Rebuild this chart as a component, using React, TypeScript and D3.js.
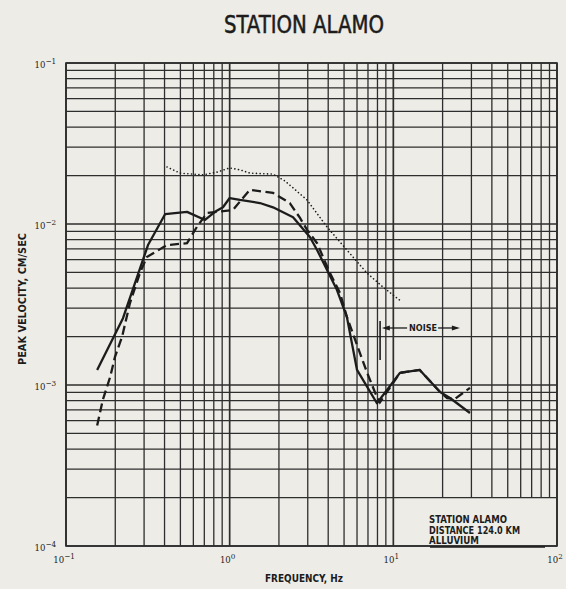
import React from "react";
import * as d3 from "d3";

// ---- data ----
const solidFreq = [0.155, 0.223, 0.317, 0.403, 0.549, 0.707, 0.813, 0.91, 1.0, 1.156, 1.53, 1.84, 2.44, 3.09, 3.42, 3.93, 4.52, 5.2, 6.0, 7.94, 10.97, 14.5, 19.3, 22.2, 29.4];
const solidVel = [1.24e-3, 2.6e-3, 7.4e-3, 1.15e-2, 1.19e-2, 1.06e-2, 1.19e-2, 1.27e-2, 1.45e-2, 1.41e-2, 1.35e-2, 1.27e-2, 1.1e-2, 8.3e-3, 6.9e-3, 5.2e-3, 3.9e-3, 2.65e-3, 1.24e-3, 7.7e-4, 1.19e-3, 1.24e-3, 9.05e-4, 8.3e-4, 6.7e-4];

const dashedFreq = [0.155, 0.168, 0.186, 0.199, 0.22, 0.246, 0.283, 0.312, 0.414, 0.549, 0.631, 0.727, 0.837, 1.047, 1.19, 1.33, 1.84, 2.33, 2.69, 2.97, 3.42, 4.1, 4.72, 5.2, 6.0, 6.9, 7.94, 8.28, 10.97, 14.5, 19.3, 21.3, 23.8, 29.4];
const dashedVel = [5.6e-4, 8.1e-4, 1.12e-3, 1.49e-3, 1.99e-3, 3.23e-3, 4.96e-3, 6.24e-3, 7.4e-3, 7.6e-3, 9.6e-3, 1.17e-2, 1.19e-2, 1.22e-2, 1.43e-2, 1.63e-2, 1.56e-2, 1.35e-2, 1.09e-2, 9.2e-3, 7.6e-3, 4.96e-3, 3.73e-3, 2.65e-3, 1.77e-3, 1.2e-3, 8.4e-4, 7.8e-4, 1.19e-3, 1.24e-3, 9.05e-4, 8.3e-4, 8.2e-4, 9.6e-4];

const dottedFreq = [0.414, 0.497, 0.687, 0.837, 1.0, 1.156, 1.33, 1.84, 2.18, 2.97, 3.93, 5.2, 6.9, 8.64, 11.3];
const dottedVel = [2.26e-2, 2.07e-2, 2.02e-2, 2.1e-2, 2.23e-2, 2.17e-2, 2.07e-2, 2.04e-2, 1.85e-2, 1.41e-2, 9.6e-3, 6.9e-3, 4.96e-3, 4.06e-3, 3.28e-3];

const xTickValues = [0.1, 1, 10, 100];
const xTickExp = ["-1", "0", "1", "2"];
const yTickValues = [1e-1, 1e-2, 1e-3, 1e-4];
const yTickExp = ["-1", "-2", "-3", "-4"];

const noiseFreq = 8.3;
const noiseVelTop = 2.5e-3;
const noiseVelBottom = 1.43e-3;
const noiseArrowVel = 2.26e-3;
const noiseLeftFreq = 8.5;
const noiseRightFreq = 25.5;
const noiseTextFreq = 15.2;

const legendLines = ["STATION ALAMO", "DISTANCE 124.0 KM", "ALLUVIUM"];
const legendWidths = [78, 91, 50];

const W = 566;
const H = 589;
const INK = "#1c1c1c";
const GRID = "#2e2e2e";
const BG = "#edece7";
const COND = "'DejaVu Sans Condensed', 'Liberation Sans Narrow', 'DejaVu Sans', sans-serif";
const SERIF = "'DejaVu Serif Condensed', 'Liberation Serif', serif";

export default function App() {
  const x = d3.scaleLog().domain([0.1, 100]).range([66, 557]);
  const y = d3.scaleLog().domain([1e-4, 1e-1]).range([546, 63]);

  const vGrid: number[] = [];
  [0.1, 1, 10].forEach((d) => {
    for (let k = 1; k <= 9; k++) vGrid.push(k * d);
  });
  vGrid.push(100);
  const hGrid: number[] = [];
  [1e-4, 1e-3, 1e-2].forEach((d) => {
    for (let k = 1; k <= 9; k++) hGrid.push(k * d);
  });
  hGrid.push(1e-1);

  const boxTop = y(2e-4);

  const line = d3
    .line<[number, number]>()
    .x((d) => x(d[0]))
    .y((d) => y(d[1]));

  const solidPts = solidFreq.map((f, i) => [f, solidVel[i]] as [number, number]);
  const dashedPts = dashedFreq.map((f, i) => [f, dashedVel[i]] as [number, number]);
  const dottedPts = dottedFreq.map((f, i) => [f, dottedVel[i]] as [number, number]);

  const isDecade = (v: number) => Math.abs(Math.log10(v) - Math.round(Math.log10(v))) < 1e-9;

  const arrowY = y(noiseArrowVel);
  const nx = x(noiseFreq);
  const lx = x(noiseLeftFreq);
  const rx = x(noiseRightFreq);
  const tx = x(noiseTextFreq);

  return (
    <div style={{ position: "absolute", left: 0, top: 0 }}>
      <svg width={W} height={H} style={{ display: "block" }}>
        <rect x={0} y={0} width={W} height={H} fill={BG} />
        {/* title */}
        <text x={304} y={33} fontFamily={COND} fontSize={24} fill={INK} stroke={INK} strokeWidth={0.5} textAnchor="middle" textLength={160} lengthAdjust="spacingAndGlyphs">
          STATION ALAMO
        </text>

        {/* grid */}
        {hGrid.map((v, i) => (
          <line key={"h" + i} x1={x(0.1)} x2={x(100)} y1={y(v)} y2={y(v)} stroke={GRID} strokeWidth={isDecade(v) ? 1.6 : 1.3} />
        ))}
        {vGrid.map((v, i) => (
          <line
            key={"v" + i}
            x1={x(v)}
            x2={x(v)}
            y1={y(1e-1)}
            y2={v > 10.5 && v < 99 ? boxTop : y(1e-4)}
            stroke={GRID}
            strokeWidth={isDecade(v) ? 1.7 : 1.3}
          />
        ))}
        <rect x={x(0.1)} y={y(1e-1)} width={x(100) - x(0.1)} height={y(1e-4) - y(1e-1)} fill="none" stroke={GRID} strokeWidth={1.6} />
        <line x1={430} x2={545} y1={y(1e-4) + 1} y2={y(1e-4) + 1} stroke={INK} strokeWidth={1.5} />

        {/* curves */}
        <path d={line(dottedPts) || ""} fill="none" stroke={INK} strokeWidth={1.6} strokeDasharray="0.1 3.6" strokeLinecap="round" />
        <path d={line(dashedPts) || ""} fill="none" stroke={INK} strokeWidth={2.3} strokeDasharray="9 4.5" />
        <path d={line(solidPts) || ""} fill="none" stroke={INK} strokeWidth={2.3} strokeLinejoin="round" />

        {/* noise annotation */}
        <line x1={nx} x2={nx} y1={y(noiseVelTop)} y2={y(noiseVelBottom)} stroke={INK} strokeWidth={1.6} />
        <rect x={tx - 16} y={arrowY - 6} width={32} height={12} fill={BG} />
        <line x1={lx + 6} x2={tx - 16} y1={arrowY} y2={arrowY} stroke={INK} strokeWidth={1.3} />
        <line x1={tx + 15} x2={rx - 7} y1={arrowY} y2={arrowY} stroke={INK} strokeWidth={1.3} />
        <path d={`M${lx},${arrowY} L${lx + 8},${arrowY - 2.5} L${lx + 8},${arrowY + 2.5} Z`} fill={INK} />
        <path d={`M${rx},${arrowY} L${rx - 8},${arrowY - 2.5} L${rx - 8},${arrowY + 2.5} Z`} fill={INK} />
        <text x={tx} y={arrowY + 3.5} fontFamily={COND} fontWeight="bold" fontSize={9.5} fill={INK} textAnchor="middle" textLength={28} lengthAdjust="spacingAndGlyphs">
          NOISE
        </text>

        {/* legend box text */}
        {legendLines.map((s, i) => (
          <text key={"lg" + i} x={429} y={523 + i * 10.5} fontFamily={COND} fontWeight="bold" fontSize={10} fill={INK} textLength={legendWidths[i]} lengthAdjust="spacingAndGlyphs">
            {s}
          </text>
        ))}

        {/* y tick labels */}
        {yTickValues.map((v, i) => (
          <text key={"yt" + i} x={56} y={y(v) + 5} fontFamily={SERIF} fontSize={9.5} fill={INK} textAnchor="end">
            <tspan>10</tspan>
            <tspan dy={-4.5} fontSize={8}>{yTickExp[i].replace("-", "\u2212")}</tspan>
          </text>
        ))}
        {/* x tick labels */}
        {xTickValues.map((v, i) => (
          <text key={"xt" + i} x={x(v) - 2} y={563} fontFamily={SERIF} fontSize={9.5} fill={INK} textAnchor="middle">
            <tspan>10</tspan>
            <tspan dy={-4.5} fontSize={8}>{xTickExp[i].replace("-", "\u2212")}</tspan>
          </text>
        ))}

        {/* axis titles */}
        <text x={304} y={582} fontFamily={COND} fontWeight="bold" fontSize={10} fill={INK} textAnchor="middle" textLength={78} lengthAdjust="spacingAndGlyphs">
          FREQUENCY, Hz
        </text>
        <text
          transform={`translate(26,299) rotate(-90)`}
          fontFamily={COND}
          fontWeight="bold"
          fontSize={10}
          fill={INK}
          textAnchor="middle"
          textLength={132}
          lengthAdjust="spacingAndGlyphs"
        >
          PEAK VELOCITY, CM/SEC
        </text>
      </svg>
    </div>
  );
}
